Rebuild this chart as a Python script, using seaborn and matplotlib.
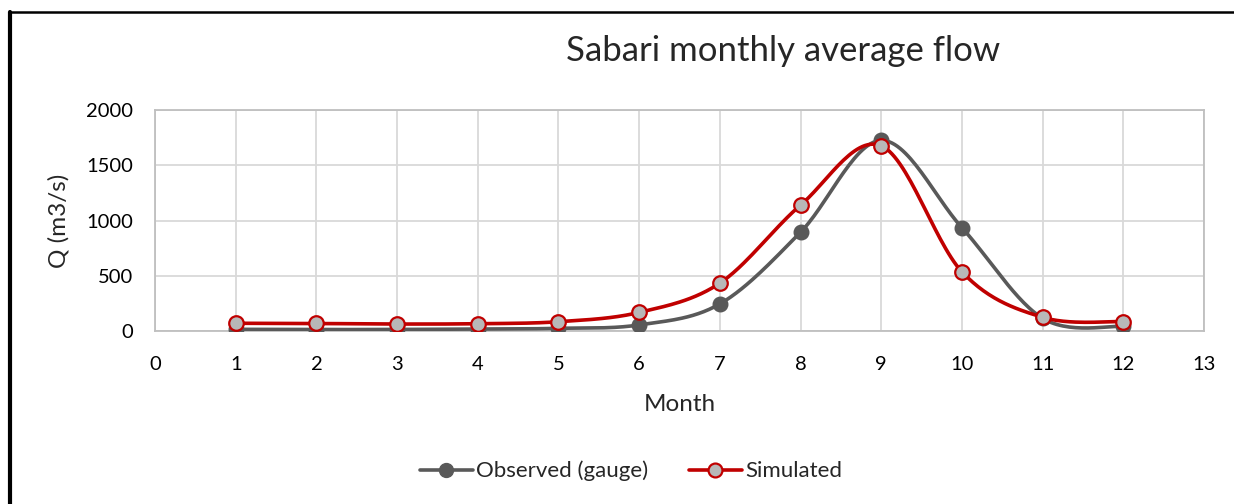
import numpy as np
import pandas as pd
import matplotlib
matplotlib.use("Agg")
import matplotlib.pyplot as plt
import seaborn as sns
from matplotlib.lines import Line2D

months = [1, 2, 3, 4, 5, 6, 7, 8, 9, 10, 11, 12]
observed = [15, 13, 14, 18, 24, 55, 245, 894, 1725, 935, 115, 42]
simulated = [70, 68, 63, 66, 84, 168, 433, 1139, 1676, 536, 124, 85]
xticks = list(range(0, 14))
yticks = [0, 500, 1000, 1500, 2000]

sns.set_theme(style="white")
plt.rcParams['font.family'] = ['Lato', 'DejaVu Sans']

def catmull_rom(x, y, n=30):
    x = np.asarray(x, float); y = np.asarray(y, float)
    px = np.concatenate([[x[0]], x, [x[-1]]])
    py = np.concatenate([[y[0]], y, [y[-1]]])
    xs, ys = [], []
    for i in range(1, len(px) - 2):
        p0, p1, p2, p3 = (np.array([px[j], py[j]]) for j in (i - 1, i, i + 1, i + 2))
        c1 = p1 + (p2 - p0) / 6.0
        c2 = p2 - (p3 - p1) / 6.0
        t = np.linspace(0, 1, n, endpoint=False)[:, None]
        pts = ((1 - t) ** 3) * p1 + 3 * ((1 - t) ** 2) * t * c1 + 3 * (1 - t) * t ** 2 * c2 + t ** 3 * p2
        xs.extend(pts[:, 0]); ys.extend(pts[:, 1])
    xs.append(x[-1]); ys.append(y[-1])
    return np.array(xs), np.array(ys)

W, H = 1234, 504
fig = plt.figure(figsize=(W / 100, H / 100), dpi=100)
ax = fig.add_axes([155 / W, 1 - 331 / H, (1204 - 155) / W, (331 - 110) / H])

obs_c = "#595959"
sim_c = "#C00000"

ox, oy = catmull_rom(months, observed)
sx, sy = catmull_rom(months, simulated)
sns.lineplot(x=ox, y=oy, ax=ax, color=obs_c, lw=2.6, sort=False, estimator=None, zorder=3)
sns.lineplot(x=sx, y=sy, ax=ax, color=sim_c, lw=2.6, sort=False, estimator=None, zorder=5)
sns.scatterplot(x=months, y=observed, ax=ax, color=obs_c, s=110, edgecolor=obs_c, linewidth=1, zorder=4)
sns.scatterplot(x=months, y=simulated, ax=ax, color="#B8B8B8", s=110, edgecolor=sim_c, linewidth=1.6, zorder=6)

ax.set_xlim(0, 13)
ax.set_ylim(0, 2000)
ax.set_xticks(xticks)
ax.set_yticks(yticks)
ax.set_xticklabels([str(t) for t in xticks], fontsize=14.5)
ax.set_yticklabels([str(t) for t in yticks], fontsize=14.5)
ax.tick_params(axis='x', length=0, pad=18, colors='black')
ax.tick_params(axis='y', length=0, pad=16, colors='black')
ax.grid(True, color="#D9D9D9", lw=1.3)
ax.set_axisbelow(True)
for s in ax.spines.values():
    s.set_color("#BFBFBF")
    s.set_linewidth(1.3)
ax.set_xlabel("Month", fontsize=17.5, labelpad=15)
ax.set_ylabel("Q (m3/s)", fontsize=17.5, labelpad=12)

fig.text(783 / W, 1 - 51 / H, "Sabari monthly average flow", fontsize=25, ha='center', va='center')

handles = [
    Line2D([0], [0], color=obs_c, lw=2.6, marker='o', markersize=10, markerfacecolor=obs_c, markeredgecolor=obs_c),
    Line2D([0], [0], color=sim_c, lw=2.6, marker='o', markersize=10, markerfacecolor="#B8B8B8", markeredgecolor=sim_c, markeredgewidth=1.6),
]
fig.legend(handles, ["Observed (gauge)", "Simulated"], loc='center', bbox_to_anchor=(631 / W, 1 - 471 / H),
           ncol=2, frameon=False, fontsize=16, handlelength=2.4, handletextpad=0.15, columnspacing=1.8)

# outer frame (left and top edges)
fig.add_artist(Line2D([10 / W, 10 / W], [0, 1 - 12 / H], color='black', lw=3, transform=fig.transFigure))
fig.add_artist(Line2D([10 / W, 1], [1 - 12 / H, 1 - 12 / H], color='black', lw=1.8, transform=fig.transFigure))

fig.savefig("out.png", dpi=100)
